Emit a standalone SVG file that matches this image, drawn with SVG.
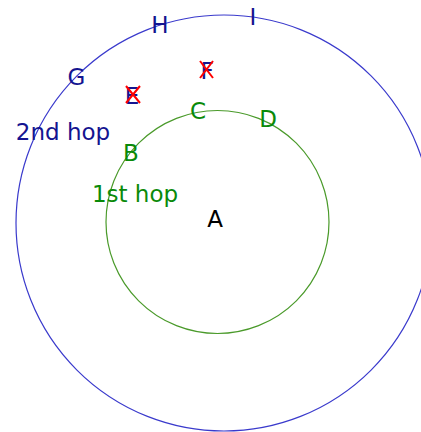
<svg xmlns="http://www.w3.org/2000/svg" width="421" height="432" viewBox="0 0 421 432">
<style>
text{font-family:"DejaVu Sans",sans-serif;font-size:23px;text-anchor:middle}
.b{fill:#141490}
.g{fill:#0a8a0a}
.k{fill:#000}
.x{stroke:#ff0000;stroke-width:2;fill:none}
</style>
<rect width="421" height="432" fill="#fff"/>
<g id="connectors">
<circle id="hop2" cx="224" cy="223" r="208" fill="none" stroke="#3a3acc" stroke-width="1.2"/>
<circle id="hop1" cx="217.5" cy="222" r="111.5" fill="none" stroke="#4a9a2a" stroke-width="1.2"/>
</g>
<g id="A"><text class="k" x="215" y="227">A</text></g>
<g id="B"><text class="g" x="131" y="161">B</text></g>
<g id="C"><text class="g" x="198" y="119">C</text></g>
<g id="D"><text class="g" x="268" y="127">D</text></g>
<g id="E"><text class="b" x="132" y="104">E</text><path class="x" d="M126 86L140 103M140 86L126 103"/></g>
<g id="F"><text class="b" x="207" y="79">F</text><path class="x" d="M200 61L213 78M213 61L200 78"/></g>
<g id="G"><text class="b" x="76.5" y="85">G</text></g>
<g id="H"><text class="b" x="160" y="33">H</text></g>
<g id="I"><text class="b" x="253" y="25">I</text></g>
<g id="label2"><text class="b" x="63" y="140">2nd hop</text></g>
<g id="label1"><text class="g" x="135" y="202">1st hop</text></g>
</svg>
